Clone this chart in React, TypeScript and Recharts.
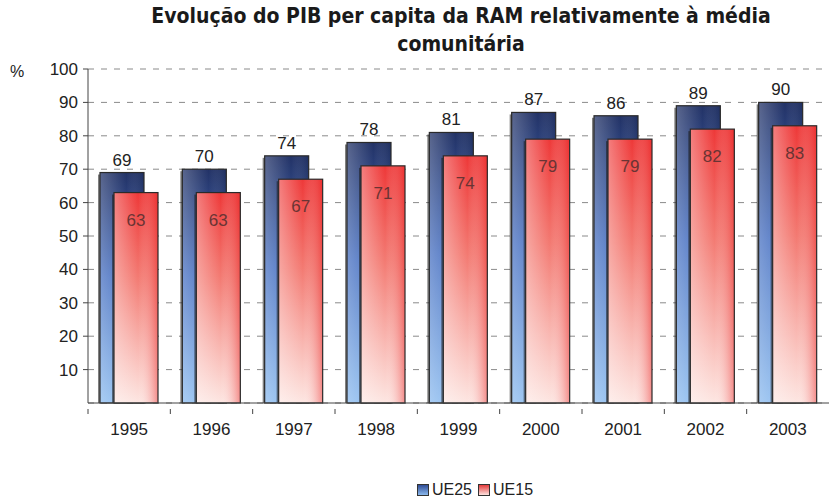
import { Bar, BarChart, CartesianGrid, LabelList, Legend, XAxis, YAxis } from "recharts";

// Valores (PIB per capita RAM, % da média UE)
const years = ["1995", "1996", "1997", "1998", "1999", "2000", "2001", "2002", "2003"];
const ue25 = [69, 70, 74, 78, 81, 87, 86, 89, 90];
const ue15 = [63, 63, 67, 71, 74, 79, 79, 82, 83];
const yTicks = [10, 20, 30, 40, 50, 60, 70, 80, 90, 100];

const data = years.map((year, i) => ({ year, ue25: ue25[i], ue15: ue15[i] }));

const FONT = "'Liberation Sans', Arial, sans-serif";

// Bar with a vertical colour ramp plus a light sheen from the left edge,
// close to the old Excel "3D" look of the original.
function ShadedBar(props: any) {
  const { x, y, width, height, fillId } = props;
  if (!height || height <= 0) return null;
  return (
    <g>
      <rect x={x - 2} y={y + 2} width={width} height={height - 2} fill="#1a1a1a" opacity={0.55} />
      <rect x={x} y={y} width={width} height={height} fill={`url(#${fillId}-v)`} />
      <rect x={x} y={y} width={width} height={height} fill={`url(#${fillId}-h)`} />
      <rect x={x} y={y} width={width} height={height} fill="none" stroke="#2a2a2a" strokeWidth={1.2} />
    </g>
  );
}

// category label + a small tick mark on the left band boundary (Excel style)
function YearTick(props: any) {
  const { x, y, payload } = props;
  const half = payload?.offset ?? 41;
  return (
    <g>
      <line x1={x - half} x2={x - half} y1={y - 12} y2={y - 7} stroke="#444" />
      <text x={x} y={y + 14} textAnchor="middle" fill="#222" fontSize={17} fontFamily={FONT}>
        {payload.value}
      </text>
    </g>
  );
}

const LegendContent = () => (
  <div style={{ display: "flex", justifyContent: "center", gap: 6, fontFamily: FONT, fontSize: 16, color: "#222", lineHeight: "20px" }}>
    {[
      { name: "UE25", c1: "#2f4c96", c2: "#8ab8ec" },
      { name: "UE15", c1: "#e43b3b", c2: "#fde3df" },
    ].map((s) => (
      <span key={s.name} style={{ display: "inline-flex", alignItems: "center", gap: 3 }}>
        <span
          style={{
            width: 10,
            height: 10,
            border: "1px solid #333",
            background: `linear-gradient(to bottom, ${s.c1}, ${s.c2})`,
            display: "inline-block",
          }}
        />
        {s.name}
      </span>
    ))}
  </div>
);

export default function App() {
  return (
    <div style={{ position: "absolute", left: 0, top: 0, width: 829, height: 502, background: "#fff" }}>
      <div
        style={{
          position: "absolute",
          left: 0,
          top: 2,
          width: 922,
          textAlign: "center",
          fontFamily: "'DejaVu Sans Condensed', 'DejaVu Sans', sans-serif",
          fontWeight: 700,
          fontSize: 21,
          lineHeight: "28px",
          color: "#1a1a1a",
        }}
      >
        Evolução do PIB per capita da RAM relativamente à média
        <br />
        comunitária
      </div>
      <div style={{ position: "absolute", left: 10, top: 63, fontFamily: FONT, fontSize: 16, color: "#222" }}>%</div>
      <BarChart
        width={829}
        height={502}
        data={data}
        margin={{ top: 69, right: 0, bottom: 39, left: 0 }}
        barGap={-30}
        barSize={44}
        style={{ position: "absolute", left: 0, top: 0 }}
      >
        <defs>
          <linearGradient id="blue-v" x1="0" y1="0" x2="0" y2="1">
            <stop offset="0%" stopColor="#223266" />
            <stop offset="45%" stopColor="#4a72c2" />
            <stop offset="100%" stopColor="#8dbcef" />
          </linearGradient>
          <linearGradient id="blue-h" x1="0" y1="0" x2="1" y2="0">
            <stop offset="0%" stopColor="#ffffff" stopOpacity={0.25} />
            <stop offset="60%" stopColor="#ffffff" stopOpacity={0} />
            <stop offset="100%" stopColor="#0a1a40" stopOpacity={0.2} />
          </linearGradient>
          <linearGradient id="red-v" x1="0" y1="0" x2="0" y2="1">
            <stop offset="0%" stopColor="#ee3838" />
            <stop offset="40%" stopColor="#f37a72" />
            <stop offset="100%" stopColor="#fde6e2" />
          </linearGradient>
          <linearGradient id="red-h" x1="0" y1="0" x2="1" y2="0">
            <stop offset="0%" stopColor="#ffffff" stopOpacity={0.35} />
            <stop offset="55%" stopColor="#ffffff" stopOpacity={0} />
            <stop offset="100%" stopColor="#e82020" stopOpacity={0.45} />
          </linearGradient>
        </defs>
        <CartesianGrid vertical={false} stroke="#8a8a8a" strokeDasharray="6 7" />
        <XAxis
          dataKey="year"
          height={40}
          tickLine={false}
          axisLine={{ stroke: "#444" }}
          tick={<YearTick />}
          tickMargin={12}
        />
        <YAxis
          width={88}
          domain={[0, 100]}
          ticks={yTicks}
          axisLine={{ stroke: "#444" }}
          tickLine={{ stroke: "#444" }}
          tickSize={5}
          tick={{ fill: "#222", fontSize: 17, fontFamily: FONT }}
          tickMargin={5}
        />
        <Legend
          verticalAlign="bottom"
          content={<LegendContent />}
          wrapperStyle={{ position: "absolute", left: 265, width: 420, height: 20, top: 480 }}
        />
        <Bar dataKey="ue25" name="UE25" isAnimationActive={false} shape={(p: any) => <ShadedBar {...p} fillId="blue" />}>
          <LabelList dataKey="ue25" position="top" offset={7} fill="#222" fontSize={17} fontFamily={FONT} />
        </Bar>
        <Bar dataKey="ue15" name="UE15" isAnimationActive={false} shape={(p: any) => <ShadedBar {...p} fillId="red" />}>
          <LabelList dataKey="ue15" position="insideTop" offset={21} fill="#6a3434" fontSize={17} fontFamily={FONT} />
        </Bar>
      </BarChart>
    </div>
  );
}
